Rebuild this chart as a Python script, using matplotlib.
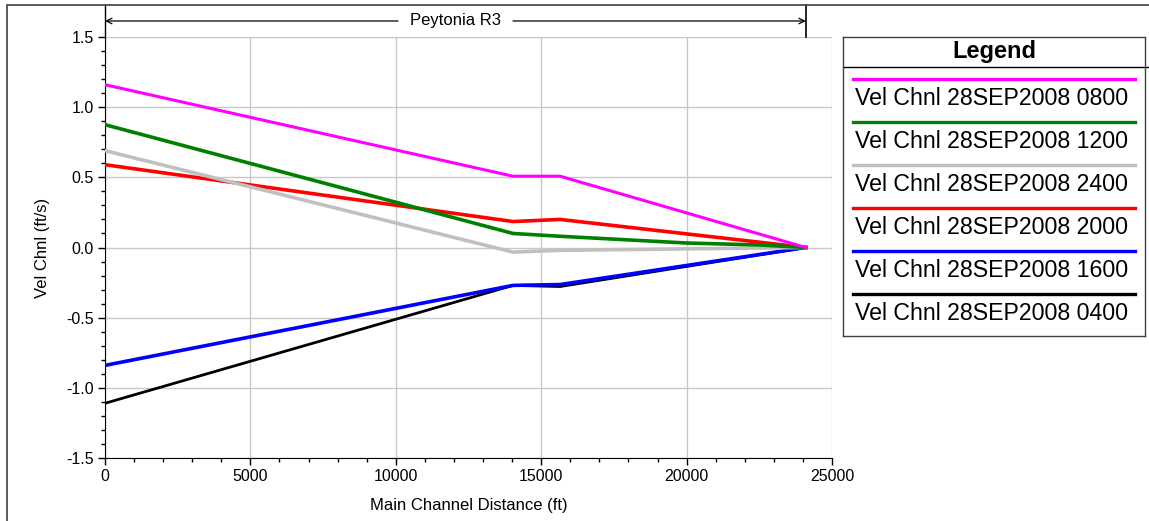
import numpy as np
import matplotlib
matplotlib.use("Agg")
from matplotlib import pyplot as plt
from matplotlib.ticker import MultipleLocator
from matplotlib.patches import Rectangle

plt.rcParams['font.family'] = ['Liberation Sans', 'DejaVu Sans']

# Distancias das secoes (ft)
dist = [0, 14030, 15650, 24100]
dist_verde = [0, 14030, 15650, 20000, 22500, 24100]

# Velocidades (ft/s)
vel_0800 = [1.16, 0.508, 0.508, 0.0]
vel_1200 = [0.875, 0.10, 0.08, 0.032, 0.018, 0.0]
vel_2400 = [0.69, -0.033, -0.02, 0.0]
vel_2000 = [0.59, 0.185, 0.20, 0.0]
vel_1600 = [-0.84, -0.27, -0.264, 0.0]
vel_0400 = [-1.11, -0.27, -0.278, 0.0]

rotulos = ["Vel Chnl 28SEP2008 0800", "Vel Chnl 28SEP2008 1200",
           "Vel Chnl 28SEP2008 2400", "Vel Chnl 28SEP2008 2000",
           "Vel Chnl 28SEP2008 1600", "Vel Chnl 28SEP2008 0400"]
cores = ["#ff00ff", "#008000", "#c0c0c0", "#ff0000", "#0000ff", "#000000"]
larguras = [2.2, 2.6, 2.6, 2.6, 2.6, 2.0]

series = [(dist, vel_0800), (dist_verde, vel_1200), (dist, vel_2400),
          (dist, vel_2000), (dist, vel_1600), (dist, vel_0400)]

fim_trecho = 24100
nome_trecho = "Peytonia R3"

fig = plt.figure(figsize=(11.49, 5.21), dpi=100)

# moldura externa
fig.patches.append(Rectangle((0.006, -0.1), 1.2, 1.09, transform=fig.transFigure,
                             fill=False, edgecolor="#404040", linewidth=1.2))

ax = fig.add_axes([0.0914, 0.1209, 0.6327, 0.8081])
# desenha na ordem inversa para a magenta ficar por cima
for i in reversed(range(len(series))):
    x, y = series[i]
    ax.plot(x, y, color=cores[i], linewidth=larguras[i], solid_joinstyle="miter", zorder=3)

ax.set_xlim(0, 25000)
ax.set_ylim(-1.5, 1.5)
ax.xaxis.set_major_locator(MultipleLocator(5000))
ax.xaxis.set_minor_locator(MultipleLocator(1000))
ax.yaxis.set_major_locator(MultipleLocator(0.5))
ax.yaxis.set_minor_locator(MultipleLocator(0.1))
ax.set_yticks(np.arange(-1.5, 1.51, 0.5))
ax.set_yticklabels(["%.1f" % v for v in np.arange(-1.5, 1.51, 0.5)])
ax.grid(True, which="major", color="#c8c8c8", linewidth=1.0)
ax.tick_params(which="major", direction="out", length=5, width=1, labelsize=11.5, pad=3)
ax.tick_params(which="minor", direction="out", length=3, width=1)
ax.spines["top"].set_visible(False)
ax.spines["right"].set_visible(False)
ax.set_xlabel("Main Channel Distance (ft)", fontsize=12, labelpad=10)
ax.set_ylabel("Vel Chnl (ft/s)", fontsize=12, labelpad=12)

# indicacao do trecho
trans = ax.get_xaxis_transform()
ax.plot([0, 0], [1.0, 1.076], transform=trans, color="black", linewidth=1, clip_on=False)
ax.plot([fim_trecho, fim_trecho], [1.0, 1.076], transform=trans, color="black",
        linewidth=1.2, clip_on=False)
ax.annotate("", xy=(0, 1.038), xytext=(10075, 1.038), xycoords=trans, textcoords=trans,
            arrowprops=dict(arrowstyle="->", color="black", linewidth=0.9, shrinkA=0, shrinkB=0))
ax.annotate("", xy=(fim_trecho, 1.038), xytext=(14030, 1.038), xycoords=trans, textcoords=trans,
            arrowprops=dict(arrowstyle="->", color="black", linewidth=0.9, shrinkA=0, shrinkB=0))
ax.text(12036, 1.038, nome_trecho, transform=trans, ha="center", va="center", fontsize=12)

# legenda desenhada a parte
leg = fig.add_axes([0.7337, 0.3551, 0.2628, 0.5739])
leg.set_xlim(0, 1)
leg.set_ylim(0, 1)
leg.set_xticks([])
leg.set_yticks([])
for s in leg.spines.values():
    s.set_linewidth(1.0)
    s.set_color("#404040")
leg.plot([0, 1.01], [0.8997, 0.8997], color="black", linewidth=1, clip_on=False)
leg.text(0.5, 0.953, "Legend", ha="center", va="center", fontsize=17, fontweight="bold")
for i in range(len(rotulos)):
    yl = 1 - (79 - 37 + 43 * i) / 299
    yt = 1 - (99 - 37 + 43 * i) / 299
    leg.plot([0.033, 0.967], [yl, yl], color=cores[i], linewidth=2.4)
    leg.text(0.04, yt, rotulos[i], ha="left", va="center", fontsize=16.7)

plt.savefig("out.png", dpi=100)
